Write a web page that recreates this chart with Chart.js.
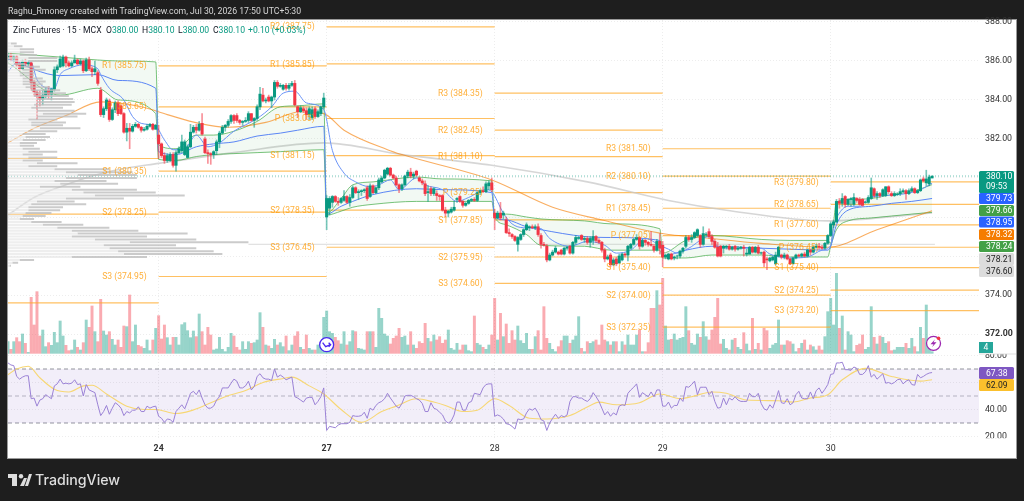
<!DOCTYPE html>
<html>
<head>
    <title>Zinc Futures 15 MCX</title>
    <style>
        body {
            margin: 0;
            padding: 0;
            background-color: #1e1e1e;
            font-family: Roboto, sans-serif;
            overflow: hidden;
        }
        canvas { position: absolute; left: 0; top: 0; }
        .top-line {
            position: absolute; left: 8px; top: 5px;
            color: #d6d6d6; font-size: 8.7px; line-height: 12px; white-space: nowrap;
        }
        .legend span {
            position: absolute; top: 24px;
            color: #131722; font-size: 8.6px; line-height: 12px; white-space: nowrap;
        }
        .legend i { font-style: normal; color: #089981; }
        .logo-text {
            position: absolute; left: 35px; top: 471px;
            color: #dedede; font-family: Inter, sans-serif; font-size: 14.2px;
            font-weight: 500; line-height: 18px; white-space: nowrap;
        }
        svg.logo { position: absolute; left: 8px; top: 474px; }
    </style>
    <script src="https://cdn.jsdelivr.net/npm/chart.js"></script>
</head>
<body>
<canvas id="chart" width="1024" height="501"></canvas>
<div class="top-line">Raghu_Rmoney created with TradingView.com, Jul 30, 2026 17:50 UTC+5:30</div>
<div class="legend">
    <span style="left:13px">Zinc Futures · 15 · MCX</span>
    <span style="left:106px">O<i>380.00</i></span>
    <span style="left:142px">H<i>380.10</i></span>
    <span style="left:178px">L<i>380.00</i></span>
    <span style="left:213px">C<i>380.10</i></span>
    <span style="left:248px"><i>+0.10 (+0.03%)</i></span>
</div>
<svg class="logo" width="24" height="12" viewBox="0 0 24 12"><path fill="#dedede" d="M0 0h9v12H4V4H0z M17 12l4-12h3l-4 12z"/><circle fill="#dedede" cx="13" cy="2.2" r="2.2"/><path fill="#dedede" d="M12 12l4-8h3l-3 8z"/></svg>
<div class="logo-text">TradingView</div>
<script>
// candles per day: open, high, low, close
const candles23 = [
    [386.15,386.4,386.05,386.3],[386.3,386.4,386,386.1],[386.1,386.3,385.95,386.2],[386.2,386.3,385.7,385.8],[385.8,385.95,385.5,385.6],
    [385.6,386.05,385.55,385.95],[385.95,386.1,385.75,385.85],[385.85,386,385.7,385.9],[385.9,385.95,384.5,384.9],[384.9,385,384.2,384.4],
    [384.4,384.5,383,384.2],[384.2,384.45,383.7,384.05],[384.05,384.5,383.75,384.25],[384.25,384.65,384.1,384.5],[384.5,384.7,384.05,384.3],
    [384.3,384.6,384,384.55],[384.55,385.7,384.45,385.55],[385.55,385.8,385.4,385.7],[385.7,386.25,385.65,386.1],[385.75,386.3,385.7,386.2],
    [386.2,386.25,385.7,385.9],[385.9,386,385.7,385.75],[385.75,386,385.7,385.9],[385.9,386.3,385.9,386.05],[386.05,386.1,385.8,385.85],
    [385.85,386.1,385.8,386],[386,386.05,385.4,385.5],[385.5,386.15,385.45,386.05],[386.05,386.2,385.5,385.6],[385.6,385.7,385.2,385.45],
    [385.45,386,385.3,385.6],[385.4,385.5,384.75,384.85],[384.5,384.65,383.15,383.25],[383.25,383.65,383.1,383.55],[383.55,384.1,383.45,384],
    [383.95,384.05,382.9,383],[383,383.6,382.95,383.5],[383.5,383.95,383.35,383.85],[383.85,383.95,383.2,383.3],[383.7,383.75,383.25,383.3],
    [383.3,383.35,382.3,382.35],[382.35,382.8,381.9,382.55],[382.55,382.8,381.5,382.4],[382.4,382.75,382.35,382.65],[382.65,382.85,382.6,382.75],
    [382.75,382.8,382.55,382.6],[382.6,382.65,382.35,382.45],[382.45,382.6,382.4,382.5],[382.5,382.75,382.45,382.65],[382.65,382.8,382.6,382.75],
    [382.75,382.8,382.45,382.5],[382.5,382.75,382.5,382.7]
];
const candles24 = [
    [382.2,382.7,381,381.75],[381.75,381.8,381.05,381.15],[381.15,381.3,380.75,380.9],[380.9,381.25,380.8,381.15],[380.9,381.3,380.85,381.2],
    [381.2,381.3,380.55,380.65],[380.65,381.4,380.35,381.3],[381.3,381.6,381.25,381.5],[381.4,382.2,381.3,381.85],[381.2,381.95,381.15,381.85],
    [381.05,381.7,381.05,381.6],[381.6,382.75,381.55,382.35],[382.35,382.7,382.3,382.6],[382.6,382.75,382.3,382.45],[382.45,382.9,382.4,382.75],
    [382.8,383.3,382.2,382.25],[382,382.1,381.25,381.3],[381.3,381.45,380.75,381.25],[381.25,381.3,380.7,381.2],[381.2,381.4,381,381.35],
    [381.4,381.95,381.2,381.85],[381.85,382.4,381.55,382.3],[382.3,382.7,382.25,382.6],[382.6,382.75,382.4,382.7],[382.7,383,382.6,382.9],
    [382.9,383.25,382.8,383.2],[383.2,383.25,382.8,382.95],[383.2,383.3,382.85,382.95],[382.95,383,382.75,382.85],[382.85,382.95,382.7,382.9],
    [382.9,383.1,382.85,382.95],[382.95,383.4,382.85,383.3],[383.3,383.3,382.9,382.95],[382.95,383.1,382.6,383.05],[383.05,383.75,382.95,383.65],
    [383.65,384.65,383.5,384.3],[384.25,384.6,383.9,383.95],[383.95,384.1,383.85,384],[384.15,384.25,383.9,383.95],[383.95,384.2,383.6,384.15],
    [384.15,385,384,384.9],[384.9,385,384.6,384.7],[384.7,384.85,384.65,384.75],[384.55,384.8,384.5,384.75],[384.75,384.85,384.5,384.6],
    [384.6,384.85,384.5,384.75],[384.75,384.95,384.7,384.85],[384.85,385,383.7,383.75],[383.65,383.7,383.1,383.4],[383.4,383.7,383.35,383.6],
    [383.55,383.65,383.35,383.45],[383.45,383.6,383,383.25],[383.25,383.65,383,383.55],[383.1,383.65,383,383.5],[383.55,383.65,383.05,383.15],
    [383.15,383.5,383.1,383.4],[383.3,383.7,383.2,383.65],[383.65,384.35,383.55,384.1]
];
const candles27 = [
    [378,379.1,377.35,378.95],[378.45,379.05,378.1,378.95],[378.75,379.1,378.5,379.05],[379.05,379.1,378.75,378.8],[378.8,379,378.6,378.75],
    [378.75,379,378.7,378.95],[378.85,379.35,378.8,379.05],[379.05,379.1,378.7,378.75],[378.75,379.15,378.55,379],[379,379.6,378.95,379.5],
    [379.5,379.55,379.2,379.25],[379.25,379.4,378.9,379.3],[379.3,379.4,379.1,379.35],[379.35,379.45,379.25,379.4],[379.5,379.6,378.85,378.95],
    [379.05,379.7,379,379.6],[379.6,379.65,379.2,379.25],[379.25,379.55,379.2,379.5],[379.5,380,379.4,379.9],[379.8,380.1,379.75,380],
    [380,380.45,379.95,380.4],[380.2,380.55,380.15,380.5],[380.5,380.55,380.1,380.15],[380.15,380.2,379.95,380],[380,380.1,379.6,379.65],
    [379.65,379.7,379.25,379.45],[379.45,379.7,379.35,379.65],[379.65,380.15,379.6,380.1],[380.1,380.4,380,380.3],[380.3,380.5,380,380.1],
    [380.1,380.3,379.95,380.2],[380.35,380.4,380.1,380.15],[380,380.05,379.8,379.85],[379.85,379.95,379.65,379.75],[379.7,379.85,379.1,379.2],
    [379.25,379.6,378.8,379.3],[379.45,379.55,379.1,379.2],[379.2,379.5,379.1,379.45],[379.2,379.35,378.85,379.1],[379.1,379.15,378.85,379.05],
    [379.1,379.15,378.3,378.35],[378.35,378.5,378,378.2],[378.2,378.35,378,378.3],[378.25,378.5,378.2,378.4],[378.35,378.8,378.3,378.5],
    [378.9,379,378.75,378.95],[379.05,379.1,378.75,378.8],[378.8,378.85,378.5,378.6],[378.6,378.75,378.55,378.7],[378.7,378.9,378.65,378.85],
    [378.85,378.95,378.8,378.9],[378.9,379,378.8,378.85],[378.85,379.3,378.8,379.25],[379.25,379.4,379.15,379.35],[379.35,379.55,379.25,379.3],
    [379.3,379.8,379.25,379.7],[379.6,379.85,379.4,379.75],[379.75,380,379.3,379.4]
];
const candles28 = [
    [378.2,378.4,377.35,377.95],[377.95,378.3,377.9,378.2],[378.2,378.75,377.85,377.95],[378.1,378.3,377.9,378.2],[377.85,378,377.15,377.2],
    [377.2,377.4,377,377.15],[377.1,377.15,376.9,377],[377,377.05,376.75,376.8],[376.6,377,376.25,376.95],[376.85,377.15,376.8,377.1],
    [377.1,377.4,377,377.35],[377.35,377.7,377.3,377.6],[377.45,377.55,377.3,377.5],[377.5,377.6,377.4,377.45],[377.45,377.6,377.35,377.5],
    [377.5,377.65,377,377.1],[377.05,377.15,376.4,376.6],[376.6,376.7,376.5,376.55],[376.5,376.6,375.7,375.8],[375.8,376.15,375.75,376.05],
    [376.05,376.3,376,376.2],[376.2,376.5,376.15,376.4],[376.2,376.25,376.05,376.1],[376.3,376.35,376.05,376.1],[376.1,376.45,376.05,376.4],
    [376.4,376.5,376.3,376.45],[376.5,376.55,376.1,376.15],[376.15,376.75,376.1,376.7],[376.7,377.05,376.6,376.95],[376.9,377,376.85,376.95],
    [377.05,377.1,376.8,376.85],[376.85,377,376.7,376.9],[376.9,377,376.6,376.7],[376.7,377,376.45,376.9],[376.8,377.3,376.6,377],
    [377,377.05,376.7,376.8],[376.8,376.9,376.65,376.7],[376.7,376.75,376.2,376.3],[376.3,376.4,375.7,375.85],[375.85,376.05,375.8,375.95],
    [376.05,376.15,375.45,375.55],[375.55,375.9,375.5,375.8],[375.85,375.95,375.5,375.6],[375.65,376.1,375.6,376],[375.8,376.15,375.75,376.1],
    [376.1,376.15,375.95,376.05],[376.05,376.55,375.75,376.5],[376.4,376.65,376.35,376.6],[376.6,376.9,376.55,376.85],[376.85,377.1,376.8,376.95],
    [376.95,377,376.35,376.5],[376.5,376.85,376.45,376.8],[376.8,376.85,376.55,376.7],[376.7,376.75,376.5,376.6],[376.6,377.25,376.5,376.55],
    [376.5,376.6,376.2,376.3],[376.3,376.85,376.25,376.75],[376.75,377.15,376.1,376.4]
];
const candles29 = [
    [376.55,376.75,375.45,375.95],[375.95,376.1,375.85,376.05],[375.85,376.15,375.8,376.1],[376.1,376.15,375.8,375.85],[375.9,376,375.8,375.95],
    [376,376.05,375.85,376],[376,376.3,375.9,376.25],[376.25,376.45,376.15,376.4],[376.5,377.05,376.4,376.95],[376.95,377.05,376.75,376.85],
    [376.85,377.1,376.7,376.95],[376.95,377.25,376.9,377.2],[377.05,377.4,377,377.35],[377.05,377.1,376.45,376.6],[376.6,377.5,376.55,377.15],
    [377.1,377.2,377,377.12],[377.25,377.4,376.9,377],[377,377.1,376.6,376.75],[376.75,376.85,376.4,376.45],[376.45,376.7,375.95,376],
    [376.5,376.55,375.95,376],[376.4,376.55,376.15,376.5],[376.45,376.55,376.35,376.5],[376.5,376.6,376.3,376.35],[376.35,376.5,376.3,376.45],
    [376.5,376.55,376.25,376.35],[376.35,376.5,376.3,376.4],[376.4,376.5,376.35,376.45],[376.45,376.55,376,376.4],[376.1,376.35,376,376.15],
    [376.1,376.5,376.1,376.45],[376.45,376.5,376.15,376.2],[376.2,376.5,376.15,376.45],[376.45,376.55,376.1,376.15],[376.15,376.2,376.1,376.17],
    [376.2,376.25,375.45,375.65],[375.85,375.95,375.3,375.8],[375.75,375.95,375.7,375.9],[375.8,376,375.75,375.95],[375.6,376.2,375.55,376.05],
    [376,376.5,375.95,376.45],[376.05,376.1,375.85,375.95],[375.95,376.15,375.85,376.05],[376.05,376.1,375.8,375.85],[375.85,375.9,375.55,375.6],
    [375.6,375.95,375.6,375.9],[375.9,376.1,375.85,376.05],[376.05,376.1,375.95,376],[376,376.15,375.95,376.1],[376.1,376.2,375.95,376],
    [376,376.35,375.95,376.3],[376.3,376.35,376.05,376.2],[376.2,376.5,376.15,376.45],[376.45,376.6,376.4,376.5],[376.5,376.65,376.35,376.45],
    [376.45,376.55,376.35,376.4],[376.4,376.7,376.35,376.65],[376.65,377.1,376.6,377.05]
];
const candles30 = [
    [377.05,377.75,377,377.65],[377.6,377.85,377.45,377.75],[377.75,378.9,377.7,378.8],[378.8,378.95,378.45,378.7],[378.7,379.2,378.55,378.95],
    [379.05,379.1,378.5,378.65],[378.65,378.95,378.6,378.9],[378.9,379,378.55,378.95],[378.65,379.2,378.6,379],[378.95,379,378.75,378.85],
    [378.9,379,378.6,378.65],[378.9,378.95,378.55,378.6],[378.75,378.8,378.7,378.77],[378.75,379.1,378.7,379],[378.95,380,378.9,379.5],
    [379.45,379.5,379,379.1],[379.1,379.3,378.9,379.2],[379.2,379.25,379,379.1],[379.1,379.45,379.05,379.4],[379.1,379.55,379.05,379.55],
    [379.55,379.6,379.2,379.3],[379.2,379.3,379.05,379.1],[379.1,379.3,379.05,379.2],[379.15,379.25,379.1,379.17],[379.2,379.45,379.1,379.3],
    [379.3,379.45,379.25,379.35],[379.35,379.4,378.9,379.2],[379.2,379.45,379.15,379.35],[379.35,379.55,379.3,379.45],[379.45,379.5,379.2,379.25],
    [379.25,379.4,379.2,379.35],[379.35,379.95,379.3,379.9],[379.95,380.05,379.8,379.85],[379.75,380.4,379.6,379.95],[379.7,380.15,379.6,380.05],
    [380,380.1,380,380.1]
];

const volume23 = [35,12,35,47,35,58,30,3,168,85,185,52,70,20,32,24,63,32,97,52,24,8,10,40,18,10,32,100,78,142,65,35,162,67,55,65,42,25,40,18,82,80,175,35,85,24,20,15,40,8,40,75];
const volume24 = [113,43,85,47,25,48,48,25,86,92,68,47,67,50,118,65,25,78,55,10,13,48,12,5,18,60,52,18,10,35,12,35,30,32,40,122,78,25,22,15,42,25,32,20,52,8,25,52,65,18,12,55,15,10,10,25,25,108];
const volume27 = [127,65,60,48,38,28,65,25,35,68,65,15,13,10,65,65,65,18,135,105,58,52,28,45,52,75,48,52,25,65,25,15,35,30,90,45,35,55,40,50,30,40,70,15,10,30,10,25,25,8,5,112,30,25,18,12,25,55];
const volume28 = [165,40,120,50,88,30,68,40,82,38,30,60,12,12,50,68,10,140,45,30,12,5,20,38,52,52,30,40,52,110,15,5,35,30,35,40,25,85,40,35,25,35,35,5,35,25,55,25,25,55,70,5,5,32,135,135,188,145];
const volume29 = [225,82,40,42,58,40,45,48,140,68,30,25,58,48,95,50,40,70,108,165,28,42,15,10,40,45,18,12,62,28,8,105,12,30,10,75,68,15,25,30,100,25,25,38,35,28,5,15,30,40,10,25,20,10,22,10,50,125];
const volume30 = [165,85,240,75,112,10,65,55,5,24,28,55,12,18,140,48,28,52,48,30,35,8,10,18,18,18,30,15,45,20,5,78,45,145,20,5];

const rsi23 = [74.5,73,72.5,64.5,62.5,64,65,65,48,48.5,42.5,47,48,51,49.5,48,57.5,59,62.5,59,59.5,59,59.5,62,58.5,59,50,58.5,54.5,53.5,52.5,43.5,35.5,38.5,43,36.5,41,45,43.5,41,35.5,38.5,37.5,39.5,39.5,42,38.5,38.5,42.5,41,42,42.5];
const rsi24 = [35,33.5,30.5,33,32.5,30.5,38.5,41,43.5,40.5,46,52,53.5,51,54.5,48.5,43.5,41,41,42.5,47,49.5,56,56,56,59.5,62.5,61,56,56,57.5,61,54.5,57,64.5,66.5,63.5,62.5,62.5,61.5,70,64,65.5,64,62,63,64,49.5,48.5,47,45.5,48.5,49,49,43.5,46,49.5,56];
const rsi27 = [24.5,27.5,27,26.5,28.5,29.5,29.5,29.5,30.5,35.5,35,35,35.5,38,33.5,41,39.5,43,45,46,48,52,48.5,45.5,42.5,41,44.5,50,50.5,50.5,49.5,48,47,44.5,38.5,38.5,45,41,40,38,36,31.5,30,31.5,36,45.5,45.5,39.5,39.5,45,46,52,51.5,51,56,58.5,59,59];
const rsi28 = [35,36,35,33,29.5,29,27.5,25.5,33,32.5,33,37.5,40.5,39.5,41,37.5,32.5,31.5,24.5,30,33.5,36.5,33.5,35.5,34.5,36,46,49.5,49.5,48.5,48.5,47,46,48,52.5,49.5,46,41,36,38.5,35,37.5,36,42.5,43.5,43,52,54.5,56.5,59,49,52.5,51,49.5,53,49.5,54.5,54.5];
const rsi29 = [42.5,42.5,45.5,41,43,43,48.5,46,57,56.5,58.5,61,51,56.5,56.5,56.5,51,53.5,46,41,41.5,48.5,43.5,48.5,47,49.5,47,46,46,46,52,49.5,49.5,52,44.5,40.5,39.5,43.5,41,47,54,45,44.5,48,43.5,45,51,53.5,48.5,48,48,53,48,54,56,52,55,58.5];
const rsi30 = [66,66.5,74.5,74.5,75,69.5,69.5,69,71.5,70.5,66,66,68,72.5,64,66,62.5,64.5,66.5,59.5,60,59,60,62,62.5,59,61,62,58.5,58,66,63.5,64.5,66,67,67.38];

const rsiMaBars = [0,3,7,11,16,21,26,29,34,41,47,51,58,63,69,75,82,88,95,98,104,109,115,122,129,134,141,147,151,157,162,168,173,180,186,194,201,204,210,218,225,232,236,243,248,255,266,271,277,283,288,296,305,315,319];
const rsiMaVals = [65.8,70,72,63.5,55,53,57.5,58,51.5,42.5,40,40,37,39,44,49.5,54,60,63,64,57.5,51.5,40,30.5,38.5,42.5,48,45.5,43,38.5,39.5,48,43,33.5,33,35.5,43,45.5,43.5,45,51.5,48,49.5,53,52,47,46.5,45.5,48.5,51,62,70.5,64.5,61,62.09];

// vwap band, one stretch per session
const bandBars = [0,18,31,38,51, 52,58,65,71,78,86,94,100,109, 110,115,119,126,141,150,167, 168,172,179,184,199,208,225, 226,234,243,260,270,283, 284,286,290,298,305,312,319];
const bandUpper = [386.4,386.2,386.05,386,385.95, 381.7,381.5,382.2,382.2,382.4,382.9,383.65,383.7,383.8, 378.2,378.95,379.65,379.8,380.05,379.95,379.85, 378.05,378.15,378,377.9,377.8,377.65,377.4, 376.15,376.8,377.05,376.85,376.8,376.8, 376.65,378.75,378.9,378.95,379.15,379.3,379.66];
const bandLower = [385.9,384.25,384.6,384,383.3, 380.95,380.9,381.1,381.2,381.25,381.3,381.35,381.4,381.45, 378.1,378.3,378.5,378.65,378.8,378.8,378.8, 378,377.6,377.1,376.55,376.5,376.3,376.3, 375.9,375.9,376.05,376.05,375.95,375.95, 376.5,377.35,377.8,377.95,378.05,378.15,378.24];
const bandMid = [386.1,385.25,385.3,385,384.6, 381.35,381.2,381.6,381.75,381.85,382.15,382.3,382.45,382.65, 378.15,378.55,378.8,379.15,379.45,379.4,379.25, 378,377.85,377.5,377.35,377,376.95,376.8, 376,376.3,376.5,376.4,376.35,376.3, 376.5,377.6,378.35,378.55,378.7,378.8,378.95];

const fastBars = [0,3,8,10,15,16,18,21,26,31,32,35,40,43,46,51,54,57,61,65,69,73,78,86,91,95,99,103,109,112,116,120,125,128,132,135,141,144,150,155,159,165,167,171,174,178,184,187,194,200,206,210,215,220,225,228,231,235,242,245,250,260,263,270,276,281,284,285,287,290,294,297,303,310,315,319];
const fastVals = [385.45,385.9,385.9,385.05,384.6,384.6,385.3,385.6,385.8,385.6,385.3,384.6,384,383.15,382.8,382.65,381.95,381.45,381.5,382.2,381.6,381.8,382.4,383.05,383.65,384.35,384.45,383.85,383.5,381.4,380.25,379.8,379.55,379.65,379.9,379.4,380,379.65,379.4,378.8,379,379.4,379.3,378.2,377.65,377.45,377.4,376.9,376.5,376.75,376.55,376.15,376.3,376.9,376.55,376.35,376.15,376.4,377,376.5,376.4,376.4,376.1,375.9,375.95,376.3,376.55,377.5,378.2,378.55,378.55,378.95,379.1,379.2,379.4,379.73];

const orangeBars = [0,9,20,32,46,55,66,76,89,101,109,116,131,136,167,188,205,228,236,260,283,300,319];
const orangeVals = [381.8,382.55,383.2,383.9,383.65,383.25,382.8,382.6,382.85,383.4,383.3,382.45,381.45,381.2,379.9,378.5,377.85,377.1,377,376.65,376.45,377.35,378.32];

const grayBars = [0,9,20,29,37,52,78,109,136,167,200,228,248,283,319];
const grayVals = [378.1,379,379.65,380.1,380.4,380.75,381.3,381.8,381.2,380.65,379.8,378.85,378.35,377.8,378.21];

const pocBars = [83,320];
const pocVals = [376.6,376.6];

// volume profile rows on the left
const profilePrices = [386.9,386.75,386.6,386.45,386.3,386.15,386,385.85,385.7,385.55,385.4,385.25,385.1,384.95,384.8,384.65,384.5,384.35,384.2,384.05,383.9,383.75,383.6,383.45,383.3,383.15,383,382.85,382.7,382.55,382.4,382.25,382.1,381.95,381.8,381.65,381.5,381.35,381.2,381.05,380.9,380.75,380.6,380.45,380.3,380.15,380,379.85,379.7,379.55,379.4,379.25,379.1,378.95,378.8,378.65,378.5,378.35,378.2,378.05,377.9,377.75,377.6,377.45,377.3,377.15,377,376.85,376.7,376.55,376.4,376.25,376.1,375.95,375.8,375.65,375.5];
const profileEnds = [3,5,9,9,10,17,17,6,11,13,9,9,12,13,12,14.5,18,20,21,22.5,23,22,19,23,27,24,17,20,19,25,17,13,14.5,13,10,9,11,17,12,17,12,24,17,35,43,44.5,44.5,34,38,25,44.5,51,61,40,23,27,19,18,15,13,9,18.5,26,35,45,62,48,65,83,58,65,71,74,48,9,3.5,1];
const profileSplits = [1,2,4,4,4,7,7,2,4,5,4,4,5,5,5,6,8,9,9,10,10,9,8,10,12,10,7,8,8,11,7,5,6,5,4,4,5,7,5,7,5,10,7,16,20,24,20,16,18,11,22,26,30,20,10,8,7,7,6,5,4,8,12,17,22,24,22,30,42,33,35,38,40,22,4,1.5,0.5];

// pivot levels
const pivotStarts = [0,0,0, 52,52,52,52,52, 110,110,110,110,110,110, 168,168,168,168,168,168,168, 226,226,226,226,226,226,226, 284,284,284,284,284,284,284];
const pivotEnds = [52,52,52, 110,110,110,110,110, 168,168,168,168,168,168, 226,226,226,226,226,226,226, 284,284,284,284,284,284,284, 336,336,336,336,336,336,336];
const pivotNames = ['','','', 'R1','P','S1','S2','S3', 'R2','R1','P','S1','S2','S3', 'R3','R2','R1','P','S1','S2','S3', 'R3','R2','R1','P','S1','S2','S3', 'R3','R2','R1','P','S1','S2','S3'];
const pivotLevels = [381,378.15,373.6, 385.75,383.65,380.35,378.25,374.95, 387.75,385.85,383.05,381.15,378.35,376.45, 384.35,382.45,381.1,379.25,377.85,375.95,374.6, 381.5,380.1,378.45,377.05,375.4,374,372.35, 379.8,378.65,377.6,376.45,375.4,374.25,373.2];

const dayBars = [52,110,168,226,284];
const dayLabels = ['24','27','28','29','30'];
const priceTicks = [388,386,384,382,380,378,376,374,372];
const rsiTicks = [80,60,40,20];
const rsiLevels = [70,50,30];

// last value tags on the price axis
const priceTags = [380.10,379.73,379.66,378.95,378.32,378.24,378.21,376.60];
const priceTagTops = [171,193,205,216.5,229,241,253,265];
const priceTagColors = ['#089981','#2962ff','#43a047','#2962ff','#f57c00','#43a047','#dcdcdc','#dcdcdc'];

const candles = [...candles23,...candles24,...candles27,...candles28,...candles29,...candles30];
const volumes = [...volume23,...volume24,...volume27,...volume28,...volume29,...volume30];
const rsiValues = [...rsi23,...rsi24,...rsi27,...rsi28,...rsi29,...rsi30];

const UP = '#089981', DOWN = '#f23645';
const isUp = c => c[3] >= c[0];
const pts = (bars, vals) => bars.map((b, i) => ({x: b, y: vals[i]}));

function lineSet(bars, vals, color, width, order, extra) {
    return Object.assign({
        type: 'line', data: pts(bars, vals), borderColor: color, borderWidth: width,
        pointRadius: 0, cubicInterpolationMode: 'monotone', fill: false, order: order,
        yAxisID: 'y', xAxisID: 'x'
    }, extra || {});
}

// line with breaks: x1 to x2 at level, then a null so the next row stays apart
function rows(starts, ends, levels) {
    const out = [];
    levels.forEach((lv, i) => {
        out.push({x: starts[i], y: lv}, {x: ends[i], y: lv}, {x: ends[i], y: null});
    });
    return out;
}

const datasets = [
    // rsi zone
    lineSet([0, 336], [rsiLevels[0], rsiLevels[0]], 'rgba(120,123,134,.8)', 1, 28, {yAxisID: 'yRsi', borderDash: [4, 3], fill: '+1', backgroundColor: 'rgba(126,87,194,.1)'}),
    lineSet([0, 336], [rsiLevels[2], rsiLevels[2]], 'rgba(120,123,134,.8)', 1, 28, {yAxisID: 'yRsi', borderDash: [4, 3]}),
    lineSet([0, 336], [rsiLevels[1], rsiLevels[1]], 'rgba(120,123,134,.5)', 1, 28, {yAxisID: 'yRsi', borderDash: [4, 3]}),
    // volume
    {type: 'bar', data: pts(candles.map((c, i) => i), volumes), yAxisID: 'yVol', barThickness: 2.3, grouped: false, order: 27,
        backgroundColor: candles.map(c => isUp(c) ? 'rgba(8,153,129,.42)' : 'rgba(242,54,69,.42)')},
    // pivots
    {type: 'line', data: rows(pivotStarts, pivotEnds, pivotLevels), borderColor: 'rgba(255,167,38,.72)', borderWidth: 1.2, pointRadius: 0, spanGaps: false, order: 20, yAxisID: 'y'},
    // band
    lineSet(bandBars, bandUpper, 'rgba(76,175,80,.75)', 1, 12, {fill: '+1', backgroundColor: 'rgba(76,175,80,.07)'}),
    lineSet(bandBars, bandLower, 'rgba(76,175,80,.75)', 1, 12),
    lineSet(pocBars, pocVals, 'rgba(190,190,190,.55)', 1, 14),
    lineSet(grayBars, grayVals, 'rgba(200,200,200,.75)', 1.6, 13),
    lineSet(orangeBars, orangeVals, 'rgba(245,124,0,.62)', 1.1, 11),
    lineSet(bandBars, bandMid, '#5b86f5', 1, 10),
    lineSet(fastBars, fastVals, '#6b94f7', 1, 9),
    {type: 'line', data: [{x: 0, y: 380.10}, {x: 336, y: 380.10}], borderColor: 'rgba(8,153,129,.6)', borderWidth: 1, borderDash: [1, 2], pointRadius: 0, order: 8, yAxisID: 'y'},
    // candles
    {type: 'bar', data: candles.map((c, i) => ({x: i, y: [c[2], c[1]]})), yAxisID: 'y', barThickness: 1, grouped: false, order: 3,
        backgroundColor: candles.map(c => isUp(c) ? 'rgba(8,153,129,.55)' : 'rgba(242,54,69,.55)')},
    {type: 'bar', data: candles.map((c, i) => ({x: i, y: [c[0], c[3]]})), yAxisID: 'y', barThickness: 2.4, grouped: false, order: 2,
        backgroundColor: candles.map(c => isUp(c) ? UP : DOWN)},
    // volume profile, sits over the candles
    {type: 'line', data: rows(profileSplits.map(() => 0), profileSplits, profilePrices), borderColor: 'rgba(232,232,232,.72)', borderWidth: 2.2, pointRadius: 0, spanGaps: false, order: 1, yAxisID: 'y'},
    {type: 'line', data: rows(profileSplits, profileEnds, profilePrices), borderColor: 'rgba(190,190,190,.8)', borderWidth: 2, pointRadius: 0, spanGaps: false, order: 1, yAxisID: 'y'},
    // rsi
    lineSet(rsiMaBars, rsiMaVals, '#f7d774', 1.1, 5, {yAxisID: 'yRsi'}),
    lineSet(candles.map((c, i) => i), rsiValues, '#9b82d6', 1, 4, {yAxisID: 'yRsi', cubicInterpolationMode: 'default', tension: 0})
];

function tag(ctx, top, h, color, text, textColor) {
    ctx.fillStyle = color;
    ctx.beginPath();
    ctx.roundRect(979, top, 35, h, 1.5);
    ctx.fill();
    ctx.fillStyle = textColor;
    ctx.textAlign = 'left';
    ctx.textBaseline = 'middle';
    ctx.fillText(text, 986, top + h / 2 + 0.5);
}

// white frame behind the chart
const framePlugin = {
    id: 'frame',
    beforeDraw(chart) {
        const ctx = chart.ctx;
        ctx.save();
        ctx.fillStyle = '#ffffff';
        ctx.fillRect(8, 20, 1008, 438);
        ctx.strokeStyle = '#9a9a9a';
        ctx.lineWidth = 1;
        ctx.strokeRect(7.5, 19.5, 1009, 439);
        ctx.restore();
    }
};

// pivot captions, price tags, marks
const labelPlugin = {
    id: 'labels',
    afterDraw(chart) {
        const ctx = chart.ctx, x = chart.scales.x, y = chart.scales.y, v = chart.scales.yVol;
        ctx.save();

        // rsi pane cuts its top and bottom axis labels
        ctx.fillStyle = '#ffffff';
        ctx.fillRect(980, 346, 36, 8);
        ctx.fillRect(980, 438.2, 36, 10);
        ctx.fillStyle = '#d8d8d8';
        ctx.fillRect(979, 353.6, 37, 0.8);

        ctx.font = '8.6px Roboto';
        ctx.fillStyle = 'rgba(255,152,0,.78)';
        ctx.textAlign = 'right';
        ctx.textBaseline = 'middle';
        pivotNames.forEach((name, i) => {
            if (!name) return;
            ctx.fillText(name + ' (' + pivotLevels[i].toFixed(2) + ')', x.getPixelForValue(pivotStarts[i]) - 12, y.getPixelForValue(pivotLevels[i]) + 0.5);
        });

        priceTags.forEach((t, i) => {
            const dark = priceTagColors[i] === '#dcdcdc';
            if (i === 0) {
                tag(ctx, priceTagTops[0], 22, priceTagColors[0], '', '#fff');
                ctx.fillStyle = '#fff';
                ctx.textAlign = 'left';
                ctx.fillText(t.toFixed(2), 986, 177);
                ctx.fillText('09:53', 986, 187);
            } else {
                tag(ctx, priceTagTops[i], i > 5 ? 12 : 11, priceTagColors[i], t.toFixed(2), dark ? '#222' : '#fff');
            }
        });
        tag(ctx, 367, 12, '#7e57c2', rsiValues[rsiValues.length - 1].toFixed(2), '#fff');
        tag(ctx, 379, 12, '#fbc02d', rsiMaVals[rsiMaVals.length - 1].toFixed(2), '#222');

        // volume count badge
        ctx.fillStyle = '#26a69a';
        ctx.fillRect(979, 342, 14, 11);
        ctx.fillStyle = '#fff';
        ctx.textAlign = 'center';
        ctx.fillText('4', 986, 348);

        // session break mark
        const bx = x.getPixelForValue(dayBars[1]);
        const by = v.getPixelForValue(26);
        ctx.fillStyle = '#fff';
        ctx.strokeStyle = '#4a28f0';
        ctx.lineWidth = 1.3;
        ctx.beginPath();
        ctx.arc(bx, by, 7, 0, Math.PI * 2);
        ctx.fill();
        ctx.stroke();
        ctx.beginPath();
        ctx.moveTo(bx - 4, by - 2);
        ctx.lineTo(bx - 1, by + 2);
        ctx.lineTo(bx + 4, by);
        ctx.moveTo(bx + 2, by - 2);
        ctx.lineTo(bx + 4, by);
        ctx.lineTo(bx + 2, by + 2);
        ctx.stroke();

        // alert mark
        const ax = x.getPixelForValue(319.5), ay = v.getPixelForValue(30);
        ctx.fillStyle = '#fff';
        ctx.strokeStyle = '#9c27b0';
        ctx.beginPath();
        ctx.arc(ax, ay, 7, 0, Math.PI * 2);
        ctx.fill();
        ctx.stroke();
        ctx.fillStyle = '#9c27b0';
        ctx.beginPath();
        ctx.moveTo(ax + 1.5, ay - 4);
        ctx.lineTo(ax - 3, ay + 1);
        ctx.lineTo(ax, ay + 1);
        ctx.lineTo(ax - 1.5, ay + 4);
        ctx.lineTo(ax + 3, ay - 1);
        ctx.lineTo(ax, ay - 1);
        ctx.closePath();
        ctx.fill();
        ctx.fillStyle = '#f23645';
        ctx.beginPath();
        ctx.arc(ax + 5, ay - 5, 1.8, 0, Math.PI * 2);
        ctx.fill();
        ctx.restore();
    }
};

const gridStyle = {color: '#ededed', drawTicks: false};
const hiddenPriceLabels = [380, 378, 376];

new Chart(document.getElementById('chart'), {
    type: 'line',
    data: {datasets: datasets},
    plugins: [framePlugin, labelPlugin],
    options: {
        responsive: false,
        animation: false,
        events: [],
        layout: {padding: {left: 8, top: 20, right: 8, bottom: 43}, autoPadding: false},
        plugins: {legend: {display: false}, tooltip: {enabled: false}},
        scales: {
            x: {
                type: 'linear', min: 0, max: 335.2, offset: false, position: 'bottom',
                grid: Object.assign({offset: false}, gridStyle),
                border: {display: false, dash: [1, 2]},
                afterBuildTicks: s => { s.ticks = dayBars.map(v => ({value: v})); },
                afterFit: s => { s.height = 20; },
                ticks: {
                    autoSkip: false, maxRotation: 0, padding: 6, color: '#333',
                    font: ctx => ({family: 'Roboto', size: 8.8, weight: ctx.index < 2 ? '700' : '400'}),
                    callback: v => dayLabels[dayBars.indexOf(v)]
                }
            },
            // the three panes share the plot height, each range puts its values in its own strip
            y: {
                type: 'linear', position: 'right', min: 366.67, max: 388.1, weight: 1,
                grid: gridStyle,
                border: {display: false, dash: [1, 2]},
                afterBuildTicks: s => { s.ticks = priceTicks.map(v => ({value: v})); },
                afterFit: s => { s.width = 37; },
                ticks: {
                    autoSkip: false, padding: 6, color: '#333',
                    font: ctx => ({family: 'Roboto', size: 8.8, weight: ctx.tick && ctx.tick.value === 372 ? '700' : '400'}),
                    callback: v => hiddenPriceLabels.includes(v) ? '' : v.toFixed(2)
                }
            },
            yRsi: {
                type: 'linear', position: 'right', min: 18.9, max: 328.5, weight: 0,
                grid: gridStyle,
                border: {display: false, dash: [1, 2]},
                afterBuildTicks: s => { s.ticks = rsiTicks.map(v => ({value: v})); },
                // zero wide axis, and the large label padding must not push the plot inwards
                afterFit: s => { s.width = 0; s.paddingTop = 0; s.paddingBottom = 0; },
                ticks: {
                    // mirror keeps the labels from being clipped
                    mirror: true, autoSkip: false, padding: 28, color: '#333', font: {family: 'Roboto', size: 8.8},
                    callback: v => v.toFixed(2)
                }
            },
            yVol: {type: 'linear', display: false, min: -254, max: 1000, grid: {display: false}}
        }
    }
});
</script>
</body>
</html>
